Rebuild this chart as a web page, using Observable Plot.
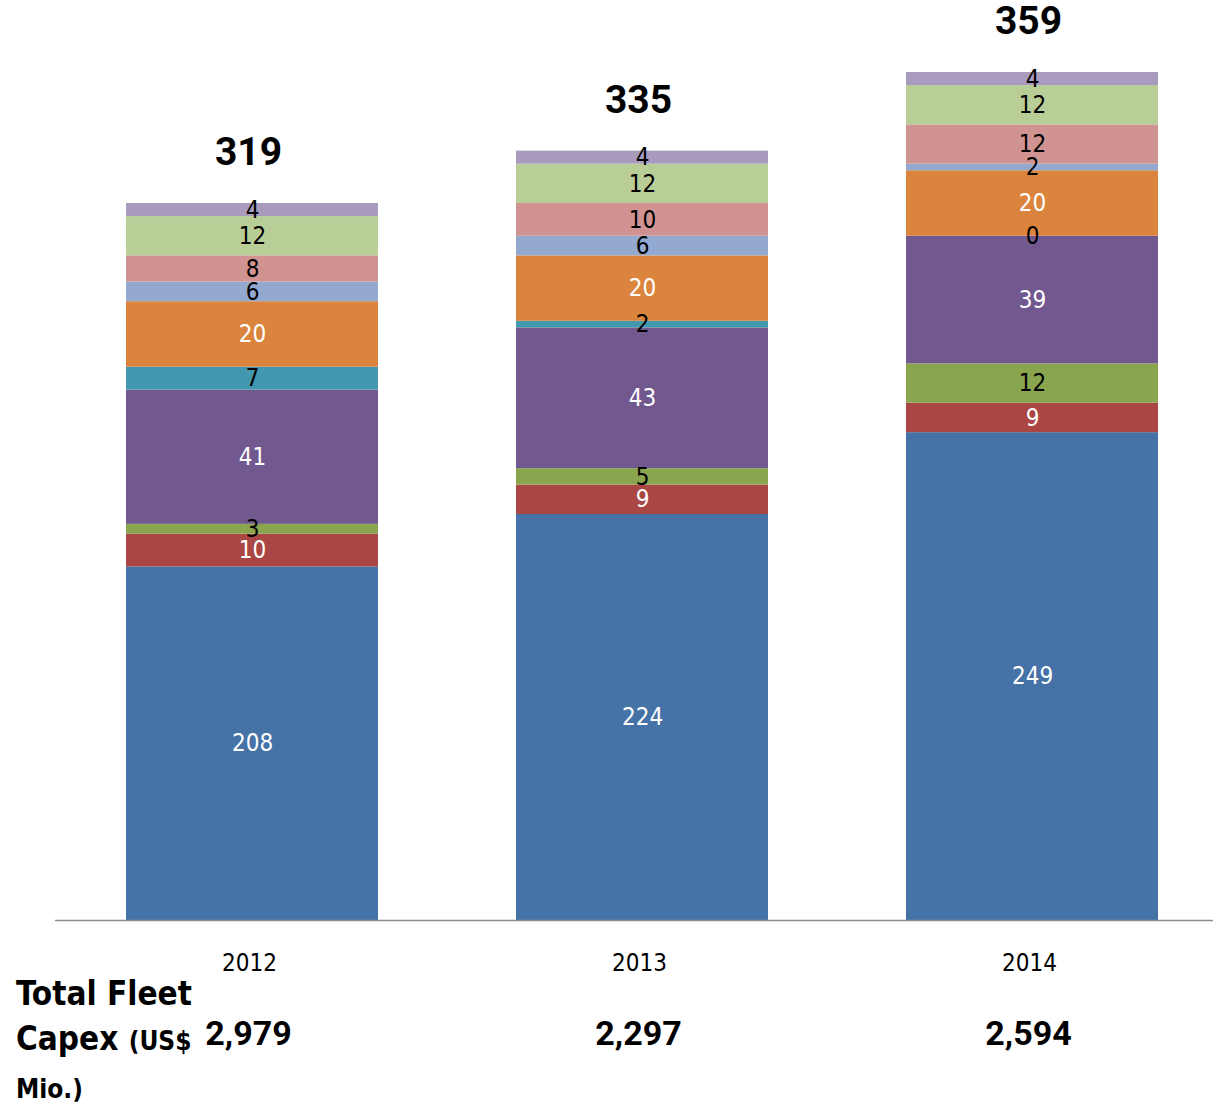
<!DOCTYPE html>
<html>
<head>
<meta charset="utf-8">
<script src="https://cdn.jsdelivr.net/npm/d3@7"></script>
<script src="https://cdn.jsdelivr.net/npm/@observablehq/plot@0.6"></script>
<style>
  html, body { margin: 0; padding: 0; background: #fff; }
  #wrap { position: relative; width: 1213px; height: 1106px; overflow: hidden; }
  #caption {
    position: absolute; left: 16px; top: 971px;
    font-family: "DejaVu Sans Condensed", "DejaVu Sans", sans-serif;
    font-stretch: condensed; font-weight: bold; font-size: 33px; line-height: 45px; color: #000;
  }
  #caption .small { font-size: 26px; }
</style>
</head>
<body>
<div id="wrap">
  <div id="chart"></div>
  <div id="caption">Total Fleet<br>Capex <span class="small">(US$</span><br><span class="small">Mio.)</span></div>
</div>
<script>
// ---- data ----
const years = ["2012", "2013", "2014"];
const segBlue = [208, 224, 249];
const segRed = [10, 9, 9];
const segGreen = [3, 5, 12];
const segPurple = [41, 43, 39];
const segTeal = [7, 2, 0];
const segOrange = [20, 20, 20];
const segLightBlue = [6, 6, 2];
const segPink = [8, 10, 12];
const segLightGreen = [12, 12, 12];
const segLavender = [4, 4, 4];
const totals = [319, 335, 359];
const fleetCapex = ["2,979", "2,297", "2,594"];

const seriesList = [segBlue, segRed, segGreen, segPurple, segTeal, segOrange, segLightBlue, segPink, segLightGreen, segLavender];
const seriesColors = ["#4572A7", "#AA4643", "#89A54E", "#71588F", "#4198AF", "#DB843D", "#93A9CF", "#D19392", "#B9CD96", "#A99BBD"];
const labelColors = ["#fff", "#fff", "#000", "#fff", "#000", "#fff", "#000", "#000", "#000", "#000"];
const axisBase = 100; // value axis starts at 100

// build stacked rows
const rows = [];
years.forEach((yr, i) => {
  let acc = 0;
  seriesList.forEach((s, k) => {
    const v = s[i];
    rows.push({year: yr, value: v, y1: Math.max(acc, axisBase), y2: acc + v, fill: seriesColors[k], text: labelColors[k]});
    acc += v;
  });
});
const totalRows = years.map((yr, i) => ({year: yr, total: totals[i], capex: fleetCapex[i]}));

const labelFont = '"DejaVu Sans Condensed", "DejaVu Sans", sans-serif';
const boldFont = 'Roboto, "DejaVu Sans Condensed", sans-serif';

const chart = Plot.plot({
  width: 1213,
  height: 1106,
  marginTop: 0,
  marginBottom: 186,
  marginLeft: 55,
  marginRight: 0,
  style: {fontFamily: labelFont, background: "#fff"},
  x: {domain: years, range: [125, 1158], paddingInner: 0.355, paddingOuter: 0, label: null, axis: null},
  y: {domain: [axisBase, 381], axis: null},
  marks: [
    Plot.barY(rows, {x: "year", y1: "y1", y2: "y2", fill: "fill", inset: 0}),
    Plot.ruleY([axisBase], {stroke: "#8c8c8c", strokeWidth: 1.6}),
    Plot.text(rows, {x: "year", y: d => (d.y1 + d.y2) / 2, text: d => String(d.value), fill: "text", fontSize: 24, fontFamily: labelFont}),
    Plot.text(totalRows, {x: "year", y: "total", text: d => String(d.total), dy: -51, dx: -4, fontSize: 39, fontWeight: "bold", fontFamily: boldFont, fill: "#000"}),
    Plot.text(totalRows, {x: "year", frameAnchor: "bottom", text: "year", dy: 50, dx: -3, fontSize: 24, fontFamily: labelFont, fill: "#000"}),
    Plot.text(totalRows, {x: "year", frameAnchor: "bottom", text: "capex", dy: 124, dx: -4, fontSize: 34, fontWeight: "bold", fontFamily: boldFont, fill: "#000"})
  ]
});
document.getElementById("chart").appendChild(chart);
</script>
</body>
</html>
